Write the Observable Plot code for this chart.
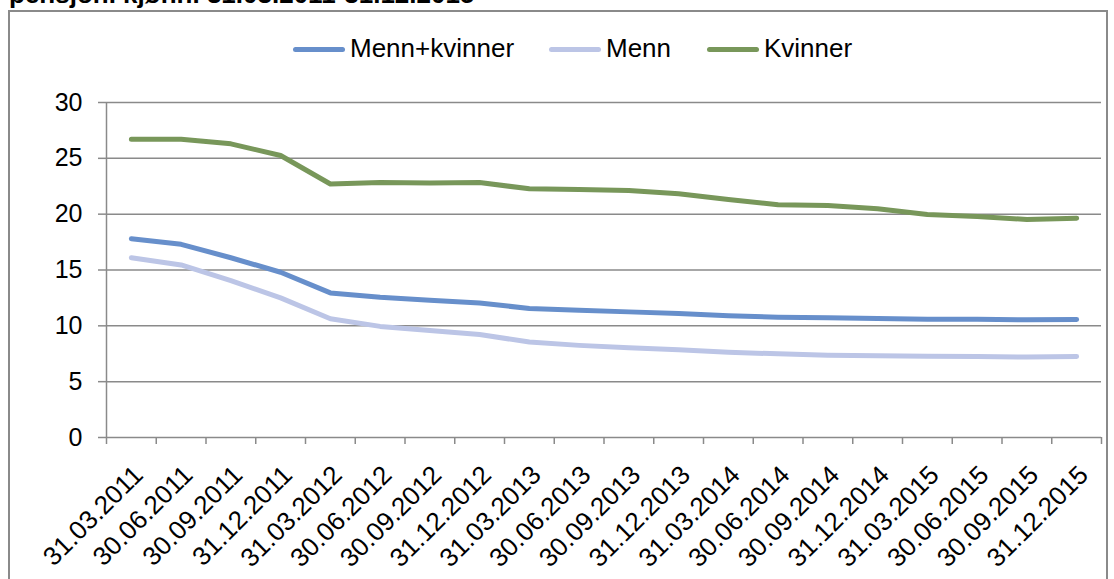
<!DOCTYPE html>
<html>
<head>
<meta charset="utf-8">
<script src="https://cdn.jsdelivr.net/npm/d3@7"></script>
<script src="https://cdn.jsdelivr.net/npm/@observablehq/plot@0.6"></script>
<style>
  html, body { margin: 0; padding: 0; background: #fff; }
  body { width: 1114px; height: 579px; overflow: hidden; position: relative; font-family: "Liberation Sans", Arial, sans-serif; }
  #chart { position: absolute; left: 0; top: 0; }
  #frame { position: absolute; left: 8px; top: 10px; width: 1096px; height: 620px; border: 2px solid #8a8a8a; pointer-events: none; }
  #title { position: absolute; left: 9px; top: -19px; font-weight: bold; font-size: 26px; line-height: 26px; white-space: nowrap; color: #000; }
  .leg { position: absolute; top: 33px; height: 30px; display: flex; align-items: center; font-size: 26px; line-height: 26px; color: #000; white-space: nowrap; }
  .sw { width: 52px; height: 5px; border-radius: 3px; margin-right: 5px; margin-top: 2px; }
</style>
</head>
<body>
<div id="chart"></div>
<div id="frame"></div>
<div id="title">pensjon. kjønn. 31.03.2011-31.12.2015</div>
<div id="legend"></div>
<script>
const categories = ["31.03.2011","30.06.2011","30.09.2011","31.12.2011","31.03.2012","30.06.2012","30.09.2012","31.12.2012","31.03.2013","30.06.2013","30.09.2013","31.12.2013","31.03.2014","30.06.2014","30.09.2014","31.12.2014","31.03.2015","30.06.2015","30.09.2015","31.12.2015"];
const seriesNames = ["Menn+kvinner", "Menn", "Kvinner"];
const mennKvinner = [17.8, 17.3, 16.1, 14.8, 12.95, 12.55, 12.3, 12.05, 11.55, 11.4, 11.25, 11.1, 10.9, 10.77, 10.72, 10.66, 10.6, 10.6, 10.54, 10.57];
const menn = [16.1, 15.45, 14.05, 12.5, 10.63, 9.95, 9.58, 9.22, 8.55, 8.25, 8.03, 7.85, 7.63, 7.49, 7.36, 7.31, 7.28, 7.25, 7.2, 7.25];
const kvinner = [26.7, 26.7, 26.3, 25.25, 22.7, 22.83, 22.8, 22.83, 22.27, 22.2, 22.12, 21.82, 21.31, 20.85, 20.77, 20.48, 19.97, 19.79, 19.52, 19.64];
const yTicks = [0, 5, 10, 15, 20, 25, 30];
const colors = ["#678fcb", "#bcc5e6", "#78975a"];

const seriesValues = [mennKvinner, menn, kvinner];
const boundaries = d3.range(0, categories.length + 1);
const gridColor = "#8a8a8a";

const lineMarks = seriesValues.map((vals, k) =>
  Plot.line(vals, {
    x: (d, i) => i + 0.5,
    y: d => d,
    stroke: colors[k],
    strokeWidth: 5,
    strokeLinecap: "round",
    strokeLinejoin: "round"
  })
);

const chart = Plot.plot({
  width: 1114,
  height: 579,
  marginLeft: 106,
  marginRight: 13,
  marginTop: 102,
  marginBottom: 142,
  style: { background: "transparent", fontFamily: "Liberation Sans, Arial, sans-serif", fontSize: "25px", color: "#000", overflow: "visible" },
  x: { type: "linear", domain: [0, categories.length], axis: null },
  y: { domain: [0, 30], axis: null },
  marks: [
    Plot.ruleY(yTicks, { stroke: gridColor, strokeWidth: 1.5 }),
    Plot.ruleX([0], { stroke: gridColor, strokeWidth: 1.5 }),
    Plot.axisY({ ticks: yTicks, tickSize: 8, tickPadding: 16, stroke: gridColor, strokeWidth: 1.5, fill: "#000", fontSize: 25, tickFormat: d => String(d), label: null }),
    Plot.axisX({ ticks: boundaries, tickSize: 7, stroke: gridColor, strokeWidth: 1.5, tickFormat: () => "", label: null }),
    Plot.text(categories, {
      x: (d, i) => i + 0.5,
      y: () => 0,
      text: d => d,
      rotate: -45,
      textAnchor: "end",
      lineAnchor: "bottom",
      dx: 13,
      dy: 39,
      fontSize: 26,
      fill: "#000"
    }),
    ...lineMarks
  ]
});
document.getElementById("chart").appendChild(chart);

const legendLefts = [293, 549, 707];
const legend = document.getElementById("legend");
seriesNames.forEach((name, k) => {
  const item = document.createElement("div");
  item.className = "leg";
  item.style.left = legendLefts[k] + "px";
  const sw = document.createElement("div");
  sw.className = "sw";
  sw.style.background = colors[k];
  const tx = document.createElement("span");
  tx.textContent = name;
  item.appendChild(sw);
  item.appendChild(tx);
  legend.appendChild(item);
});
</script>
</body>
</html>
